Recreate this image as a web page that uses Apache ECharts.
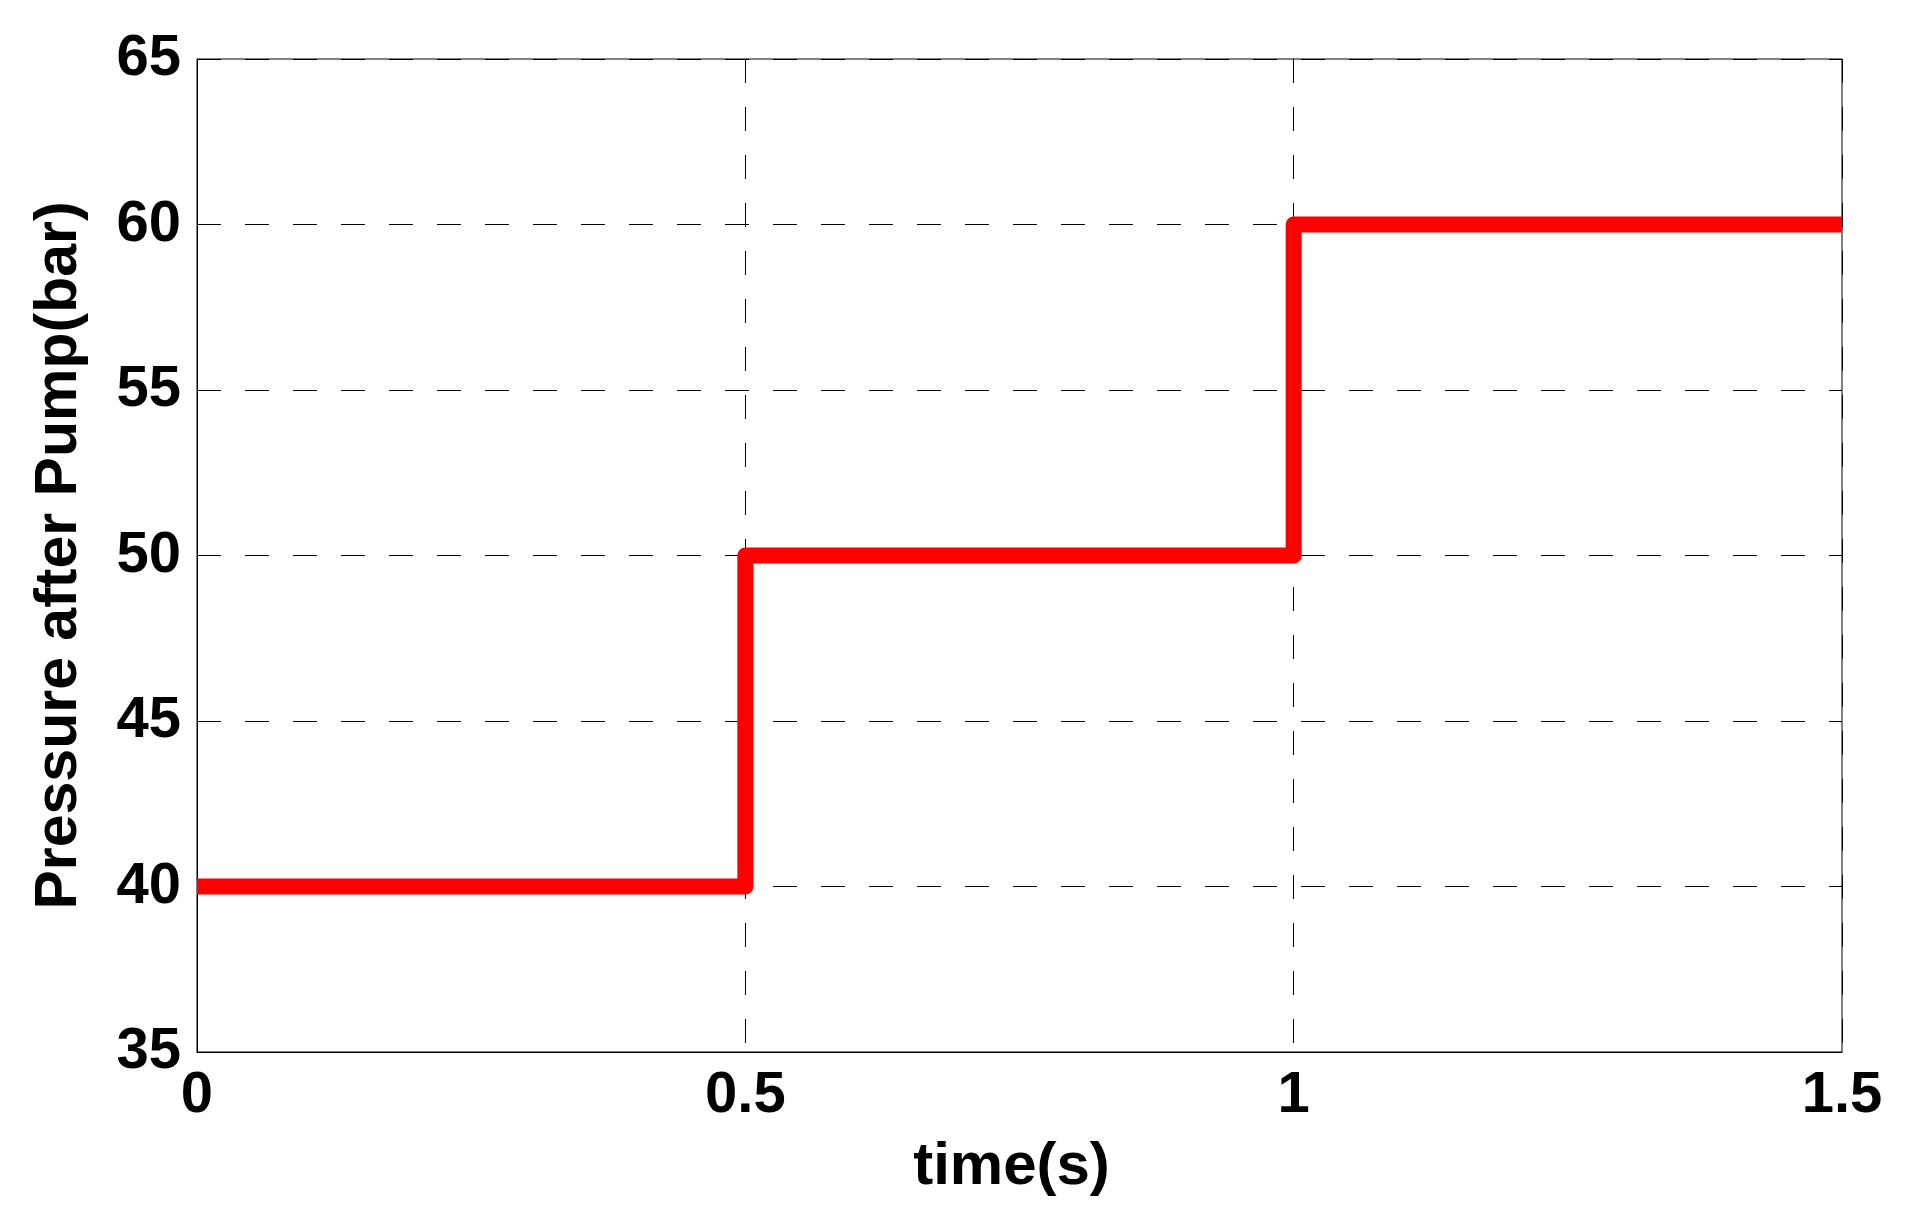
<!DOCTYPE html>
<html>
<head>
<meta charset="utf-8">
<script src="https://cdn.jsdelivr.net/npm/echarts@6/dist/echarts.min.js"></script>
<style>
html,body{margin:0;padding:0;background:#fff;}
#chart{width:1906px;height:1222px;}
</style>
</head>
<body>
<div id="chart"></div>
<script>
// Step profile: time (s) vs pressure after pump (bar)
var timeValues = [0, 0.5, 0.5, 1, 1, 1.5];
var pressureValues = [40, 40, 50, 50, 60, 60];
var xTicks = { min: 0, max: 1.5, interval: 0.5 };
var yTicks = { min: 35, max: 65, interval: 5 };
var xAxisName = 'time(s)';
var yAxisName = 'Pressure after Pump(bar)';

var seriesData = timeValues.map(function (t, i) { return [t, pressureValues[i]]; });

var font = '"Liberation Sans", Arial, sans-serif';
var chart = echarts.init(document.getElementById('chart'), null, { renderer: 'canvas' });
chart.setOption({
  animation: false,
  backgroundColor: '#ffffff',
  grid: {
    left: 197, right: 64, top: 59, bottom: 170,
    show: true, borderColor: '#000', borderWidth: 1, backgroundColor: 'transparent',
    containLabel: false
  },
  xAxis: {
    type: 'value',
    min: xTicks.min, max: xTicks.max, interval: xTicks.interval,
    name: xAxisName,
    nameLocation: 'middle',
    nameGap: 85,
    nameTextStyle: { fontFamily: font, fontWeight: 'bold', fontSize: 60, color: '#000', padding: [0, 16, 0, 0] },
    axisLine: { show: true, onZero: false, lineStyle: { color: '#000', width: 1 } },
    axisTick: { show: false },
    axisLabel: { margin: 15, fontFamily: font, fontWeight: 'bold', fontSize: 58, color: '#000' },
    splitLine: { show: true, lineStyle: { color: '#000', width: 1, type: [24, 24] } }
  },
  yAxis: {
    type: 'value',
    min: yTicks.min, max: yTicks.max, interval: yTicks.interval,
    name: yAxisName,
    nameLocation: 'middle',
    nameGap: 108,
    nameTextStyle: { fontFamily: font, fontWeight: 'bold', fontSize: 59, color: '#000' },
    axisLine: { show: true, onZero: false, lineStyle: { color: '#000', width: 1 } },
    axisTick: { show: false },
    axisLabel: { margin: 16, fontFamily: font, fontWeight: 'bold', fontSize: 58, color: '#000' },
    splitLine: { show: true, lineStyle: { color: '#000', width: 1, type: [24, 24] } }
  },
  series: [{
    type: 'line',
    data: seriesData,
    symbol: 'none',
    clip: true,
    lineStyle: { color: '#ff0000', width: 16, join: 'round' },
    z: 3
  }]
});
</script>
</body>
</html>
